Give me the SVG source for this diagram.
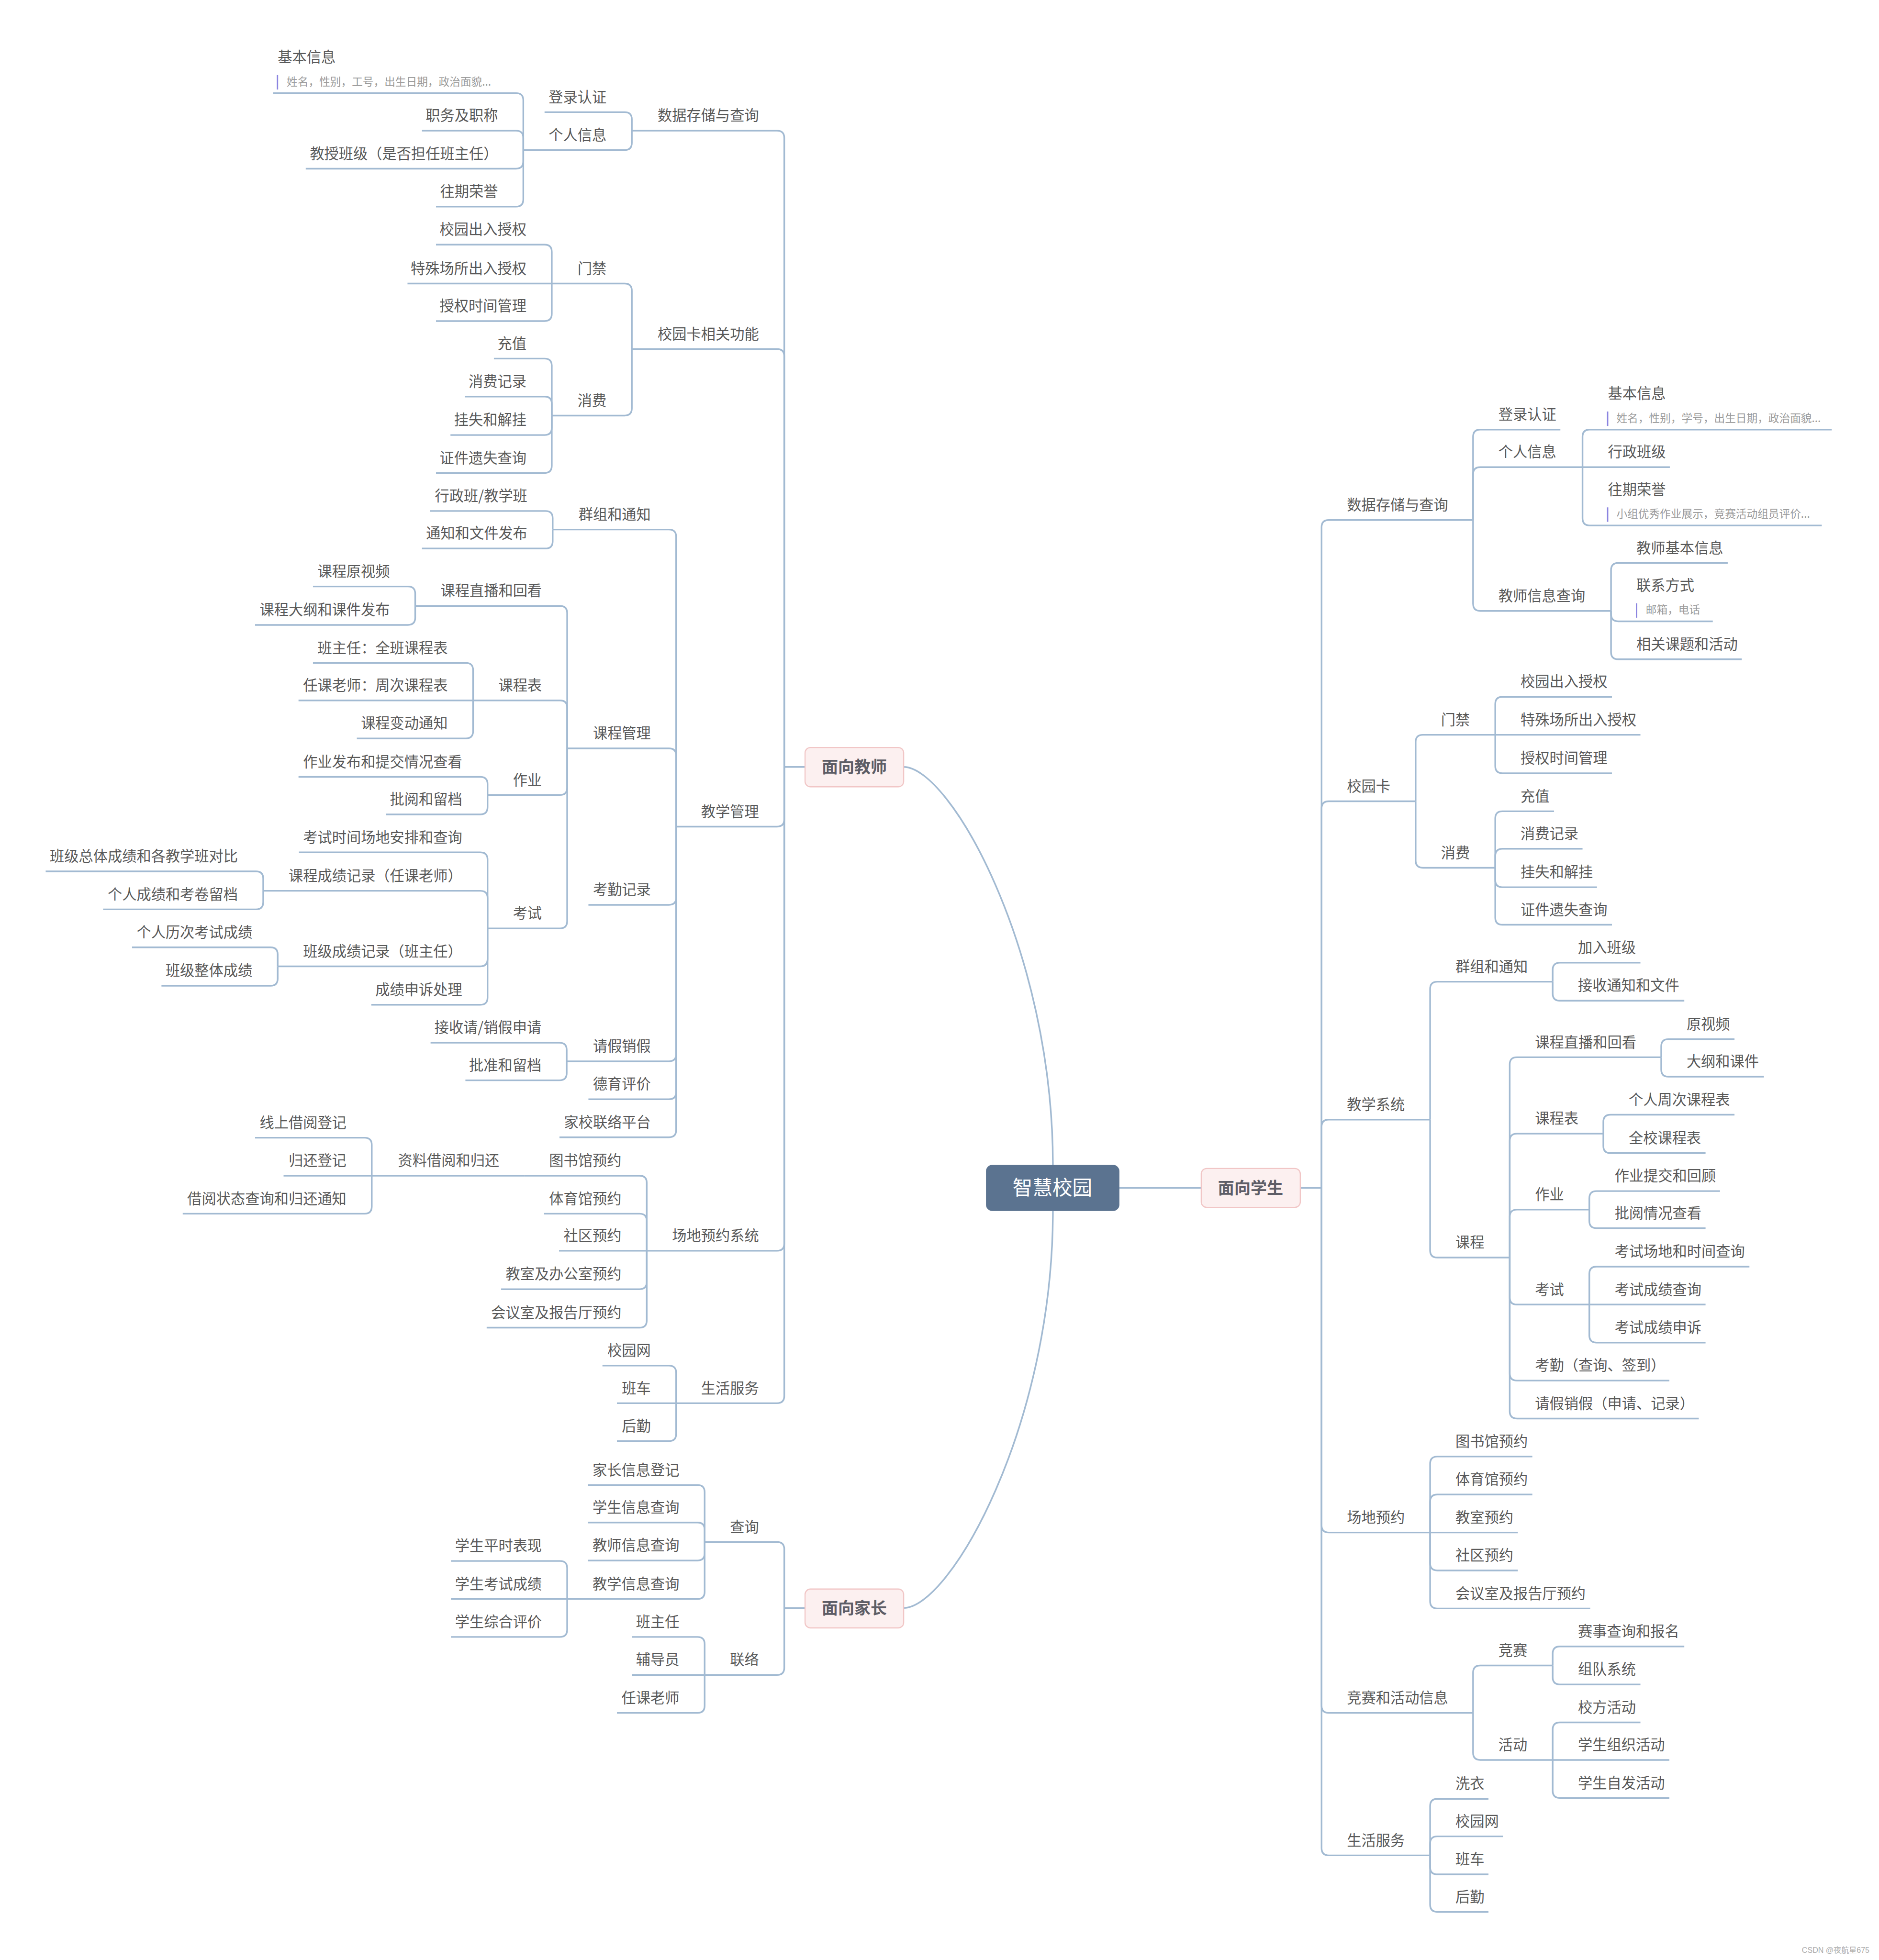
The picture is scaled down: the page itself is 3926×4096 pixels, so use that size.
<svg xmlns="http://www.w3.org/2000/svg" width="3926" height="4096" viewBox="0 0 3926 4096">
<style>
text{font-family:"Noto Sans CJK SC","Noto Sans",sans-serif}
.t{font-size:32px;fill:#595959}
.e{text-anchor:end}
.n{font-size:24px;fill:#9b9b9b}
.b{fill:#8b84e0}
.k rect{fill:#fcf0f0;stroke:#f1c6c6;stroke-width:2.5}
.k text{font-size:36px;font-weight:700;fill:#5d5d66;text-anchor:middle}
.c path{fill:none;stroke:#a2bad2;stroke-width:3.6}
.w{font-family:"Liberation Sans","Noto Sans CJK SC",sans-serif;font-size:17px;fill:#aaaaaa}
</style>
<rect width="3926" height="4096" fill="#ffffff"/>
<g transform="scale(0.945)">
<g id="connectors" class="c">
<path d="M2328 2576C2328 2100 2100 1696 1998 1696"/>
<path d="M2328 2678C2328 3154 2100 3556 1998 3556"/>
<path d="M2475 2627H2656M2875 2627H2922"/>
<path d="M1780 1696H1734M1780 3556H1734"/>
<!-- teacher -->
<path d="M1734 1696V305Q1734 289 1718 289H1397"/>
<path d="M1734 1696V788Q1734 772 1718 772H1397"/>
<path d="M1734 1696V1812Q1734 1828 1718 1828H1495"/>
<path d="M1734 1696V2750Q1734 2766 1718 2766H1430"/>
<path d="M1734 1696V3087Q1734 3103 1718 3103H1495"/>
<path d="M1397 289V264Q1397 248 1381 248H1204"/>
<path d="M1397 289V316Q1397 332 1381 332H1157"/>
<path d="M1157 332V222Q1157 206 1141 206H604"/>
<path d="M1157 332V305Q1157 289 1141 289H933"/>
<path d="M1157 332V357Q1157 373 1141 373H676"/>
<path d="M1157 332V441Q1157 457 1141 457H964"/>
<path d="M1397 772V643Q1397 627 1381 627H1220"/>
<path d="M1397 772V903Q1397 919 1381 919H1220"/>
<path d="M1220 627V557Q1220 541 1204 541H964"/>
<path d="M1220 627H901"/>
<path d="M1220 627V694Q1220 710 1204 710H964"/>
<path d="M1220 919V809Q1220 793 1204 793H1092"/>
<path d="M1220 919V893Q1220 877 1204 877H1028"/>
<path d="M1220 919V946Q1220 962 1204 962H996"/>
<path d="M1220 919V1030Q1220 1046 1204 1046H964"/>
<path d="M1495 1828V1187Q1495 1171 1479 1171H1222"/>
<path d="M1495 1828V1671Q1495 1655 1479 1655H1254"/>
<path d="M1495 1828V1985Q1495 2001 1479 2001H1301"/>
<path d="M1495 1828V2331Q1495 2347 1479 2347H1253"/>
<path d="M1495 1828V2415Q1495 2431 1479 2431H1301"/>
<path d="M1495 1828V2499Q1495 2515 1479 2515H1237"/>
<path d="M1222 1171V1146Q1222 1130 1206 1130H951"/>
<path d="M1222 1171V1197Q1222 1213 1206 1213H933"/>
<path d="M1254 1655V1356Q1254 1340 1238 1340H918"/>
<path d="M1254 1655V1565Q1254 1549 1238 1549H1046"/>
<path d="M1254 1655V1742Q1254 1758 1238 1758H1078"/>
<path d="M1254 1655V2037Q1254 2053 1238 2053H1078"/>
<path d="M918 1340V1313Q918 1297 902 1297H692"/>
<path d="M918 1340V1366Q918 1382 902 1382H564"/>
<path d="M1046 1549V1482Q1046 1466 1030 1466H692"/>
<path d="M1046 1549H660"/>
<path d="M1046 1549V1617Q1046 1633 1030 1633H789"/>
<path d="M1078 1758V1734Q1078 1718 1062 1718H660"/>
<path d="M1078 1758V1785Q1078 1801 1062 1801H853"/>
<path d="M1078 2053V1901Q1078 1885 1062 1885H661"/>
<path d="M1078 2053V1986Q1078 1970 1062 1970H582"/>
<path d="M1078 2053V2121Q1078 2137 1062 2137H614"/>
<path d="M1078 2053V2206Q1078 2222 1062 2222H821"/>
<path d="M582 1970V1943Q582 1927 566 1927H101"/>
<path d="M582 1970V1995Q582 2011 566 2011H228"/>
<path d="M614 2137V2111Q614 2095 598 2095H292"/>
<path d="M614 2137V2164Q614 2180 598 2180H357"/>
<path d="M1253 2347V2322Q1253 2306 1237 2306H952"/>
<path d="M1253 2347V2373Q1253 2389 1237 2389H1029"/>
<path d="M1430 2766V2616Q1430 2600 1414 2600H1160"/>
<path d="M1430 2766V2700Q1430 2684 1414 2684H1203"/>
<path d="M1430 2766H1236"/>
<path d="M1430 2766V2835Q1430 2851 1414 2851H1108"/>
<path d="M1430 2766V2920Q1430 2936 1414 2936H1076"/>
<path d="M1160 2600H822"/>
<path d="M822 2600V2532Q822 2516 806 2516H564"/>
<path d="M822 2600H627"/>
<path d="M822 2600V2668Q822 2684 806 2684H404"/>
<path d="M1495 3103V3036Q1495 3020 1479 3020H1332"/>
<path d="M1495 3103H1364"/>
<path d="M1495 3103V3171Q1495 3187 1479 3187H1364"/>
<!-- parent -->
<path d="M1734 3556V3426Q1734 3410 1718 3410H1558"/>
<path d="M1734 3556V3688Q1734 3704 1718 3704H1558"/>
<path d="M1558 3410V3300Q1558 3284 1542 3284H1300"/>
<path d="M1558 3410V3383Q1558 3367 1542 3367H1300"/>
<path d="M1558 3410V3435Q1558 3451 1542 3451H1300"/>
<path d="M1558 3410V3520Q1558 3536 1542 3536H1254"/>
<path d="M1254 3536V3468Q1254 3452 1238 3452H997"/>
<path d="M1254 3536H997"/>
<path d="M1254 3536V3604Q1254 3620 1238 3620H997"/>
<path d="M1558 3704V3636Q1558 3620 1542 3620H1397"/>
<path d="M1558 3704H1397"/>
<path d="M1558 3704V3772Q1558 3788 1542 3788H1364"/>
<!-- student -->
<path d="M2922 2627V1166Q2922 1150 2938 1150H3257"/>
<path d="M2922 2627V1788Q2922 1772 2938 1772H3130"/>
<path d="M2922 2627V2492Q2922 2476 2938 2476H3162"/>
<path d="M2922 2627V3373Q2922 3389 2938 3389H3162"/>
<path d="M2922 2627V3772Q2922 3788 2938 3788H3257"/>
<path d="M2922 2627V4087Q2922 4103 2938 4103H3162"/>
<path d="M3257 1150V966Q3257 950 3273 950H3450"/>
<path d="M3257 1150V1049Q3257 1033 3273 1033H3499"/>
<path d="M3257 1150V1335Q3257 1351 3273 1351H3562"/>
<path d="M3499 1033V966Q3499 950 3515 950H4050"/>
<path d="M3499 1033H3692"/>
<path d="M3499 1033V1146Q3499 1162 3515 1162H4028"/>
<path d="M3562 1351V1261Q3562 1245 3578 1245H3820"/>
<path d="M3562 1351V1358Q3562 1374 3578 1374H3787"/>
<path d="M3562 1351V1442Q3562 1458 3578 1458H3851"/>
<path d="M3130 1772V1641Q3130 1625 3146 1625H3306"/>
<path d="M3130 1772V1903Q3130 1919 3146 1919H3306"/>
<path d="M3306 1625V1557Q3306 1541 3322 1541H3564"/>
<path d="M3306 1625H3627"/>
<path d="M3306 1625V1694Q3306 1710 3322 1710H3564"/>
<path d="M3306 1919V1810Q3306 1794 3322 1794H3436"/>
<path d="M3306 1919V1893Q3306 1877 3322 1877H3499"/>
<path d="M3306 1919V1946Q3306 1962 3322 1962H3531"/>
<path d="M3306 1919V2029Q3306 2045 3322 2045H3564"/>
<path d="M3162 2476V2187Q3162 2171 3178 2171H3433"/>
<path d="M3162 2476V2765Q3162 2781 3178 2781H3338"/>
<path d="M3433 2171V2145Q3433 2129 3449 2129H3627"/>
<path d="M3433 2171V2197Q3433 2213 3449 2213H3724"/>
<path d="M3338 2781V2354Q3338 2338 3354 2338H3673"/>
<path d="M3338 2781V2523Q3338 2507 3354 2507H3545"/>
<path d="M3338 2781V2691Q3338 2675 3354 2675H3514"/>
<path d="M3338 2781V2869Q3338 2885 3354 2885H3514"/>
<path d="M3338 2781V3037Q3338 3053 3354 3053H3691"/>
<path d="M3338 2781V3121Q3338 3137 3354 3137H3756"/>
<path d="M3673 2338V2314Q3673 2298 3689 2298H3835"/>
<path d="M3673 2338V2365Q3673 2381 3689 2381H3900"/>
<path d="M3545 2507V2481Q3545 2465 3561 2465H3835"/>
<path d="M3545 2507V2534Q3545 2550 3561 2550H3771"/>
<path d="M3514 2675V2650Q3514 2634 3530 2634H3803"/>
<path d="M3514 2675V2700Q3514 2716 3530 2716H3771"/>
<path d="M3514 2885V2817Q3514 2801 3530 2801H3868"/>
<path d="M3514 2885H3771"/>
<path d="M3514 2885V2953Q3514 2969 3530 2969H3771"/>
<path d="M3162 3389V3237Q3162 3221 3178 3221H3388"/>
<path d="M3162 3389V3321Q3162 3305 3178 3305H3388"/>
<path d="M3162 3389H3356"/>
<path d="M3162 3389V3457Q3162 3473 3178 3473H3356"/>
<path d="M3162 3389V3541Q3162 3557 3178 3557H3516"/>
<path d="M3257 3788V3699Q3257 3683 3273 3683H3433"/>
<path d="M3257 3788V3876Q3257 3892 3273 3892H3433"/>
<path d="M3433 3683V3657Q3433 3641 3449 3641H3724"/>
<path d="M3433 3683V3709Q3433 3725 3449 3725H3627"/>
<path d="M3433 3892V3825Q3433 3809 3449 3809H3627"/>
<path d="M3433 3892H3691"/>
<path d="M3433 3892V3960Q3433 3976 3449 3976H3691"/>
<path d="M3162 4103V3994Q3162 3978 3178 3978H3291"/>
<path d="M3162 4103V4077Q3162 4061 3178 4061H3323"/>
<path d="M3162 4103V4129Q3162 4145 3178 4145H3291"/>
<path d="M3162 4103V4212Q3162 4228 3178 4228H3291"/>
</g>
<g id="root"><rect x="2180" y="2576" width="295" height="102" rx="14" fill="#5b7390"/><text x="2327" y="2642" text-anchor="middle" font-size="44" fill="#ffffff">智慧校园</text></g>
<g id="teacher" class="k"><rect x="1780" y="1653" width="218" height="87" rx="12"/><text x="1889" y="1709">面向教师</text></g>
<g id="student" class="k"><rect x="2656" y="2584" width="219" height="86" rx="12"/><text x="2765" y="2640">面向学生</text></g>
<g id="parent" class="k"><rect x="1780" y="3514" width="218" height="86" rx="12"/><text x="1889" y="3569">面向家长</text></g>
<g class="t e">
<g id="t-data"><text x="1678" y="267">数据存储与查询</text></g>
<g id="t-card"><text x="1678" y="750">校园卡相关功能</text></g>
<g id="t-teach"><text x="1678" y="1806">教学管理</text></g>
<g id="t-venue"><text x="1678" y="2744">场地预约系统</text></g>
<g id="t-life"><text x="1678" y="3081">生活服务</text></g>
<g id="t-login"><text x="1341" y="226">登录认证</text></g>
<g id="t-info"><text x="1341" y="310">个人信息</text></g>
<g id="t-basic"><text x="614" y="138" text-anchor="start">基本信息</text><rect class="b" x="612" y="166" width="3" height="32"/><text class="n" x="634" y="189" text-anchor="start">姓名，性别，工号，出生日期，政治面貌...</text></g>
<g id="t-title"><text x="1101" y="267">职务及职称</text></g>
<g id="t-class"><text x="1101" y="351">教授班级（是否担任班主任）</text></g>
<g id="t-honor"><text x="1101" y="435">往期荣誉</text></g>
<g id="t-gate"><text x="1341" y="605">门禁</text></g>
<g id="t-spend"><text x="1341" y="897">消费</text></g>
<g id="t-g1"><text x="1164" y="519">校园出入授权</text></g>
<g id="t-g2"><text x="1164" y="605">特殊场所出入授权</text></g>
<g id="t-g3"><text x="1164" y="688">授权时间管理</text></g>
<g id="t-s1"><text x="1164" y="771">充值</text></g>
<g id="t-s2"><text x="1164" y="855">消费记录</text></g>
<g id="t-s3"><text x="1164" y="940">挂失和解挂</text></g>
<g id="t-s4"><text x="1164" y="1024">证件遗失查询</text></g>
<g id="t-group"><text x="1439" y="1149">群组和通知</text></g>
<g id="t-course"><text x="1439" y="1633">课程管理</text></g>
<g id="t-attend"><text x="1439" y="1979">考勤记录</text></g>
<g id="t-leave"><text x="1439" y="2325">请假销假</text></g>
<g id="t-moral"><text x="1439" y="2409">德育评价</text></g>
<g id="t-home"><text x="1439" y="2493">家校联络平台</text></g>
<g id="t-gr1"><text x="1166" y="1108">行政班/教学班</text></g>
<g id="t-gr2"><text x="1166" y="1191">通知和文件发布</text></g>
<g id="t-live"><text x="1198" y="1318">课程直播和回看</text></g>
<g id="t-sched"><text x="1198" y="1527">课程表</text></g>
<g id="t-hw"><text x="1198" y="1736">作业</text></g>
<g id="t-exam"><text x="1198" y="2031">考试</text></g>
<g id="t-lv1"><text x="862" y="1275">课程原视频</text></g>
<g id="t-lv2"><text x="862" y="1360">课程大纲和课件发布</text></g>
<g id="t-sc1"><text x="990" y="1444">班主任：全班课程表</text></g>
<g id="t-sc2"><text x="990" y="1527">任课老师：周次课程表</text></g>
<g id="t-sc3"><text x="990" y="1611">课程变动通知</text></g>
<g id="t-hw1"><text x="1022" y="1696">作业发布和提交情况查看</text></g>
<g id="t-hw2"><text x="1022" y="1779">批阅和留档</text></g>
<g id="t-ex1"><text x="1022" y="1863">考试时间场地安排和查询</text></g>
<g id="t-ex2"><text x="1022" y="1948">课程成绩记录（任课老师）</text></g>
<g id="t-ex3"><text x="1022" y="2115">班级成绩记录（班主任）</text></g>
<g id="t-ex4"><text x="1022" y="2200">成绩申诉处理</text></g>
<g id="t-ex21"><text x="526" y="1905">班级总体成绩和各教学班对比</text></g>
<g id="t-ex22"><text x="526" y="1989">个人成绩和考卷留档</text></g>
<g id="t-ex31"><text x="558" y="2073">个人历次考试成绩</text></g>
<g id="t-ex32"><text x="558" y="2158">班级整体成绩</text></g>
<g id="t-le1"><text x="1197" y="2284">接收请/销假申请</text></g>
<g id="t-le2"><text x="1197" y="2367">批准和留档</text></g>
<g id="t-v1"><text x="1374" y="2578">图书馆预约</text></g>
<g id="t-v2"><text x="1374" y="2662">体育馆预约</text></g>
<g id="t-v3"><text x="1374" y="2744">社区预约</text></g>
<g id="t-v4"><text x="1374" y="2829">教室及办公室预约</text></g>
<g id="t-v5"><text x="1374" y="2914">会议室及报告厅预约</text></g>
<g id="t-borrow"><text x="1104" y="2578">资料借阅和归还</text></g>
<g id="t-b1"><text x="766" y="2494">线上借阅登记</text></g>
<g id="t-b2"><text x="766" y="2578">归还登记</text></g>
<g id="t-b3"><text x="766" y="2662">借阅状态查询和归还通知</text></g>
<g id="t-l1"><text x="1439" y="2998">校园网</text></g>
<g id="t-l2"><text x="1439" y="3081">班车</text></g>
<g id="t-l3"><text x="1439" y="3165">后勤</text></g>
<g id="p-query"><text x="1678" y="3388">查询</text></g>
<g id="p-contact"><text x="1678" y="3682">联络</text></g>
<g id="p-q1"><text x="1502" y="3262">家长信息登记</text></g>
<g id="p-q2"><text x="1502" y="3345">学生信息查询</text></g>
<g id="p-q3"><text x="1502" y="3429">教师信息查询</text></g>
<g id="p-q4"><text x="1502" y="3514">教学信息查询</text></g>
<g id="p-q41"><text x="1198" y="3430">学生平时表现</text></g>
<g id="p-q42"><text x="1198" y="3514">学生考试成绩</text></g>
<g id="p-q43"><text x="1198" y="3598">学生综合评价</text></g>
<g id="p-c1"><text x="1502" y="3598">班主任</text></g>
<g id="p-c2"><text x="1502" y="3682">辅导员</text></g>
<g id="p-c3"><text x="1502" y="3766">任课老师</text></g>
</g>
<g class="t">
<g id="s-data"><text x="2978" y="1128">数据存储与查询</text></g>
<g id="s-card"><text x="2978" y="1750">校园卡</text></g>
<g id="s-teach"><text x="2978" y="2454">教学系统</text></g>
<g id="s-venue"><text x="2978" y="3367">场地预约</text></g>
<g id="s-comp"><text x="2978" y="3766">竞赛和活动信息</text></g>
<g id="s-life"><text x="2978" y="4081">生活服务</text></g>
<g id="s-login"><text x="3313" y="928">登录认证</text></g>
<g id="s-info"><text x="3313" y="1011">个人信息</text></g>
<g id="s-tq"><text x="3313" y="1329">教师信息查询</text></g>
<g id="s-basic"><text x="3555" y="882">基本信息</text><rect class="b" x="3553" y="910" width="3" height="32"/><text class="n" x="3574" y="933">姓名，性别，学号，出生日期，政治面貌...</text></g>
<g id="s-class"><text x="3555" y="1011">行政班级</text></g>
<g id="s-honor"><text x="3555" y="1094">往期荣誉</text><rect class="b" x="3553" y="1122" width="3" height="32"/><text class="n" x="3574" y="1145">小组优秀作业展示，竞赛活动组员评价...</text></g>
<g id="s-tq1"><text x="3618" y="1223">教师基本信息</text></g>
<g id="s-tq2"><text x="3618" y="1306">联系方式</text><rect class="b" x="3617" y="1334" width="3" height="32"/><text class="n" x="3639" y="1357">邮箱，电话</text></g>
<g id="s-tq3"><text x="3618" y="1436">相关课题和活动</text></g>
<g id="s-gate"><text x="3186" y="1603">门禁</text></g>
<g id="s-spend"><text x="3186" y="1897">消费</text></g>
<g id="s-g1"><text x="3362" y="1519">校园出入授权</text></g>
<g id="s-g2"><text x="3362" y="1603">特殊场所出入授权</text></g>
<g id="s-g3"><text x="3362" y="1688">授权时间管理</text></g>
<g id="s-s1"><text x="3362" y="1772">充值</text></g>
<g id="s-s2"><text x="3362" y="1855">消费记录</text></g>
<g id="s-s3"><text x="3362" y="1940">挂失和解挂</text></g>
<g id="s-s4"><text x="3362" y="2023">证件遗失查询</text></g>
<g id="s-group"><text x="3218" y="2149">群组和通知</text></g>
<g id="s-course"><text x="3218" y="2759">课程</text></g>
<g id="s-gr1"><text x="3489" y="2107">加入班级</text></g>
<g id="s-gr2"><text x="3489" y="2191">接收通知和文件</text></g>
<g id="s-live"><text x="3394" y="2316">课程直播和回看</text></g>
<g id="s-sched"><text x="3394" y="2485">课程表</text></g>
<g id="s-hw"><text x="3394" y="2653">作业</text></g>
<g id="s-exam"><text x="3394" y="2863">考试</text></g>
<g id="s-att"><text x="3394" y="3031">考勤（查询、签到）</text></g>
<g id="s-leave"><text x="3394" y="3115">请假销假（申请、记录）</text></g>
<g id="s-lv1"><text x="3729" y="2276">原视频</text></g>
<g id="s-lv2"><text x="3729" y="2359">大纲和课件</text></g>
<g id="s-sc1"><text x="3601" y="2443">个人周次课程表</text></g>
<g id="s-sc2"><text x="3601" y="2528">全校课程表</text></g>
<g id="s-hw1"><text x="3570" y="2612">作业提交和回顾</text></g>
<g id="s-hw2"><text x="3570" y="2694">批阅情况查看</text></g>
<g id="s-ex1"><text x="3570" y="2779">考试场地和时间查询</text></g>
<g id="s-ex2"><text x="3570" y="2863">考试成绩查询</text></g>
<g id="s-ex3"><text x="3570" y="2947">考试成绩申诉</text></g>
<g id="s-v1"><text x="3218" y="3199">图书馆预约</text></g>
<g id="s-v2"><text x="3218" y="3283">体育馆预约</text></g>
<g id="s-v3"><text x="3218" y="3367">教室预约</text></g>
<g id="s-v4"><text x="3218" y="3451">社区预约</text></g>
<g id="s-v5"><text x="3218" y="3535">会议室及报告厅预约</text></g>
<g id="s-cmp"><text x="3313" y="3661">竞赛</text></g>
<g id="s-act"><text x="3313" y="3870">活动</text></g>
<g id="s-c1"><text x="3489" y="3619">赛事查询和报名</text></g>
<g id="s-c2"><text x="3489" y="3703">组队系统</text></g>
<g id="s-a1"><text x="3489" y="3787">校方活动</text></g>
<g id="s-a2"><text x="3489" y="3870">学生组织活动</text></g>
<g id="s-a3"><text x="3489" y="3954">学生自发活动</text></g>
<g id="s-l1"><text x="3218" y="3956">洗衣</text></g>
<g id="s-l2"><text x="3218" y="4039">校园网</text></g>
<g id="s-l3"><text x="3218" y="4123">班车</text></g>
<g id="s-l4"><text x="3218" y="4206">后勤</text></g>
</g>
<text class="w" x="3984" y="4319">CSDN @夜航星675</text>
</g>
</svg>
